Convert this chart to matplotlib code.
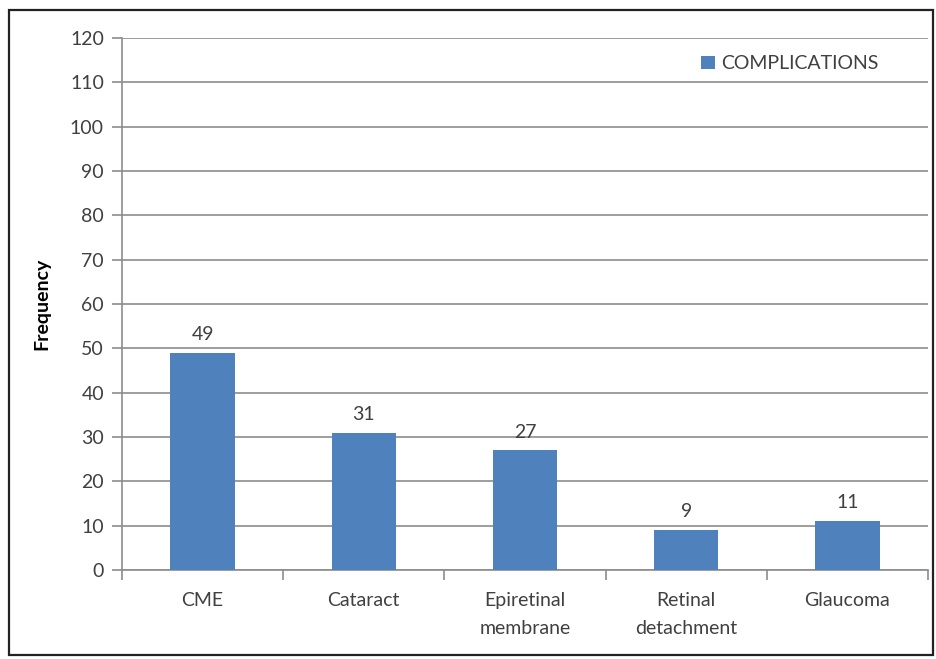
import matplotlib.pyplot as plt
from matplotlib.patches import Rectangle

plt.rcParams["font.family"] = ["Lato", "DejaVu Sans"]

categories = ["CME", "Cataract", "Epiretinal\nmembrane", "Retinal\ndetachment", "Glaucoma"]
values = [49, 31, 27, 9, 11]
series_name = "COMPLICATIONS"
y_ticks = list(range(0, 121, 10))

BAR = "#4F81BD"
TXT = "#404040"
GRID = "#8C8C8C"

fig = plt.figure(figsize=(9.36, 6.59), dpi=100)
fig.patch.set_facecolor("white")

# outer frame
fig.patches.append(Rectangle((9 / 936, 4 / 659), 924 / 936, 645 / 659,
                             transform=fig.transFigure, fill=False,
                             edgecolor="#222222", linewidth=1.6))

ax = fig.add_axes([122 / 936, 89 / 659, 806 / 936, 532 / 659])
x = list(range(len(categories)))
bars = ax.bar(x, values, width=0.40, color=BAR, zorder=3, label=series_name)
for b, v in zip(bars, values):
    ax.text(b.get_x() + b.get_width() / 2, v + 2.2, str(v),
            ha="center", va="bottom", fontsize=14, color=TXT)

ax.set_xlim(-0.5, len(categories) - 0.5)
ax.set_ylim(0, 120)
ax.set_yticks(y_ticks)
ax.yaxis.grid(True, color=GRID, linewidth=1.2, zorder=0)
ax.tick_params(axis="y", length=7, width=1.2, color=GRID, labelsize=14,
               labelcolor=TXT, pad=6)

ax.set_xticks(x)
ax.set_xticklabels(categories, fontsize=14, color=TXT, linespacing=1.75)
ax.tick_params(axis="x", length=0, pad=16)
ax.set_xticks([i - 0.5 for i in range(len(categories) + 1)], minor=True)
ax.tick_params(axis="x", which="minor", length=7, width=1.2, color=GRID)
for lab in ax.get_xticklabels():
    lab.set_va("top")

for s in ["top", "right"]:
    ax.spines[s].set_visible(False)
for s in ["left", "bottom"]:
    ax.spines[s].set_color(GRID)
    ax.spines[s].set_linewidth(1.2)

ax.set_ylabel("Frequency", fontsize=14, fontweight="bold", color="black", labelpad=14)

ax.legend(loc="upper right", bbox_to_anchor=(0.96, 1.0), frameon=False,
          fontsize=14, labelcolor=TXT, handlelength=0.7, handleheight=0.7,
          handletextpad=0.3)

plt.savefig("out.png", dpi=100, facecolor="white")
